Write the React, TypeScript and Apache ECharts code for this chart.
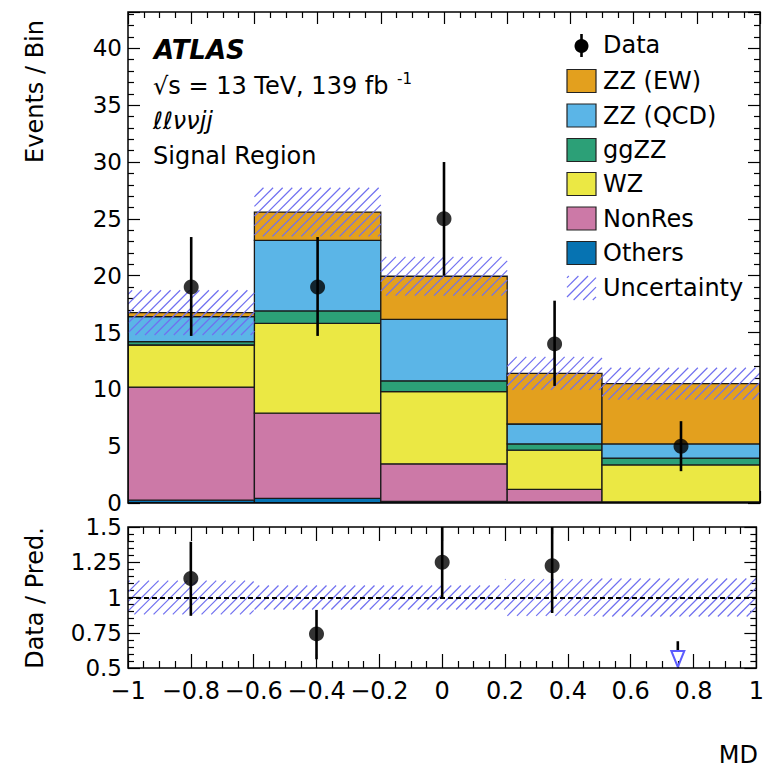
import React, { useEffect, useRef } from "react";
import * as echarts from "echarts";

// ---------------- data ----------------
const binEdges = [-1, -0.6, -0.2, 0.2, 0.5, 1];
const binCenters = [-0.8, -0.4, 0, 0.35, 0.75];

// stacked components (bottom -> top), events per bin
const others = [0.25, 0.4, 0.15, 0.1, 0.05];
const nonRes = [9.95, 7.5, 3.3, 1.1, 0.05];
const wz = [3.7, 7.9, 6.35, 3.45, 3.25];
const ggzz = [0.3, 1.1, 0.95, 0.55, 0.6];
const zzQcd = [2.2, 6.2, 5.4, 1.75, 1.25];
const zzEw = [0.35, 2.5, 3.8, 4.45, 5.3];
const uncertainty = [1.97, 2.14, 1.7, 1.45, 1.4];

const dataCounts = [19, 19, 25, 14, 5];
const dataErrUp = [4.4, 4.4, 5.0, 3.8, 2.2];
const dataErrDown = [4.3, 4.3, 5.0, 3.7, 2.2];

const ratioValues = [1.135, 0.742, 1.25, 1.225, null];
const ratioErrUp = [0.26, 0.17, 0.25, 0.33, null];
const ratioErrDown = [0.265, 0.18, 0.25, 0.335, null];
const ratioUnc = [0.12, 0.085, 0.085, 0.13, 0.135];
// point below the ratio range: upper end of its error bar (drawn as arrow)
const ratioOffScaleUpper = [null, null, null, null, 0.69];

const componentNames = ["Others", "NonRes", "WZ", "ggZZ", "ZZ (QCD)", "ZZ (EW)"];
const componentValues = [others, nonRes, wz, ggzz, zzQcd, zzEw];
const componentColors = ["#0673B2", "#CC79A7", "#EBE844", "#2CA077", "#5BB5E7", "#E3A01E"];
const legendOrder = ["ZZ (EW)", "ZZ (QCD)", "ggZZ", "WZ", "NonRes", "Others"];

const HATCH_COLOR = "#7070f0";
const FONT = "DejaVu Sans, Liberation Sans, Arial, sans-serif";

// ---------------- helpers ----------------
function hatchLines(x0: number, x1: number, yT: number, yB: number, s = 9.6, k = 1) {
  const lines: any[] = [];
  // lines: x + k*y = c
  const cMin = x0 + k * yT;
  const cMax = x1 + k * yB;
  const start = Math.ceil(cMin / s) * s;
  for (let c = start; c <= cMax; c += s) {
    const ya = Math.max(yT, (c - x1) / k);
    const yb = Math.min(yB, (c - x0) / k);
    if (yb - ya > 0.3) {
      lines.push({
        type: "line",
        shape: { x1: c - k * yb, y1: yb, x2: c - k * ya, y2: ya },
        style: { stroke: HATCH_COLOR, lineWidth: 1.2 },
      });
    }
  }
  return lines;
}

export default function App() {
  const ref = useRef<HTMLDivElement>(null);

  useEffect(() => {
    document.body.style.margin = "0";
    if (!ref.current) return;
    const chart = echarts.init(ref.current, null, { renderer: "svg" });

    // cumulative stacks
    const cum = binCenters.map(() => 0);
    const stackSeries: any[] = componentValues.map((vals, ci) => {
      const items = vals.map((v, i) => {
        const lo = cum[i];
        const hi = cum[i] + v;
        cum[i] = hi;
        return [binEdges[i], binEdges[i + 1], lo, hi];
      });
      return {
        type: "custom",
        name: componentNames[ci],
        xAxisIndex: 0,
        yAxisIndex: 0,
        clip: true,
        z: 2,
        encode: { x: [0, 1], y: [2, 3] },
        data: items,
        renderItem: (params: any, api: any) => {
          const p0 = api.coord([api.value(0), api.value(3)]);
          const p1 = api.coord([api.value(1), api.value(2)]);
          return {
            type: "rect",
            shape: { x: p0[0], y: p0[1], width: p1[0] - p0[0], height: p1[1] - p0[1] },
            style: { fill: componentColors[ci], stroke: "#1a1a1a", lineWidth: 1.3 },
          };
        },
      };
    });
    const totals = cum.slice();

    const hatchRender = (params: any, api: any) => {
      const p0 = api.coord([api.value(0), api.value(3)]);
      const p1 = api.coord([api.value(1), api.value(2)]);
      return { type: "group", children: hatchLines(p0[0], p1[0], p0[1], p1[1]) };
    };

    const mainBand = totals.map((t, i) => [binEdges[i], binEdges[i + 1], t - uncertainty[i], t + uncertainty[i]]);
    const ratioBand = ratioUnc.map((u, i) => [binEdges[i], binEdges[i + 1], 1 - u, 1 + u]);

    const errRender = (params: any, api: any) => {
      const top = api.coord([api.value(0), api.value(2)]);
      const bot = api.coord([api.value(0), api.value(1)]);
      return {
        type: "line",
        shape: { x1: top[0], y1: top[1], x2: bot[0], y2: bot[1] },
        style: { stroke: "#000", lineWidth: 2.6 },
      };
    };

    const mainErr = dataCounts.map((d, i) => [binCenters[i], d - dataErrDown[i], d + dataErrUp[i]]);
    const ratioErr: any[] = [];
    ratioValues.forEach((r, i) => {
      if (r != null) ratioErr.push([binCenters[i], r - (ratioErrDown[i] as number), r + (ratioErrUp[i] as number)]);
    });
    const ratioPts: any[] = [];
    ratioValues.forEach((r, i) => {
      if (r != null) ratioPts.push([binCenters[i], r]);
    });
    const arrows: any[] = [];
    ratioOffScaleUpper.forEach((u, i) => {
      if (u != null) arrows.push([binCenters[i], u]);
    });

    const tickStyle = { lineStyle: { color: "#000", width: 1.2 } };
    const xBase = (gridIndex: number, position: string, showLabel: boolean, tickLen: number) => ({
      type: "value",
      gridIndex,
      position,
      min: -1,
      max: 1,
      interval: 0.2,
      axisLine: { show: false, onZero: false },
      splitLine: { show: false },
      axisTick: { show: true, inside: true, length: tickLen, ...tickStyle },
      minorTick: { show: true, splitNumber: 4, length: tickLen / 2, ...tickStyle },
      axisLabel: {
        show: showLabel,
        margin: 11,
        color: "#000",
        fontFamily: FONT,
        fontSize: 24,
        formatter: (v: number) => {
          const r = Math.round(v * 10) / 10;
          return String(r).replace("-", "\u2212");
        },
      },
    });
    const yMain = (position: string, showLabel: boolean) => ({
      type: "value",
      gridIndex: 0,
      position,
      min: 0,
      max: 43.2,
      interval: 5,
      axisLine: { show: false, onZero: false },
      splitLine: { show: false },
      axisTick: { show: true, inside: true, length: 12, ...tickStyle },
      minorTick: { show: true, splitNumber: 5, length: 6, ...tickStyle },
      axisLabel: {
        show: showLabel,
        margin: 6,
        color: "#000",
        fontFamily: FONT,
        fontSize: 23,
        lineHeight: 18,
        formatter: (v: number) => (Math.abs(v % 5) < 1e-6 ? String(v) : ""),
      },
    });
    const yRatio = (position: string, showLabel: boolean) => ({
      type: "value",
      gridIndex: 1,
      position,
      min: 0.5,
      max: 1.5,
      interval: 0.25,
      axisLine: { show: false, onZero: false },
      splitLine: { show: false },
      axisTick: { show: true, inside: true, length: 12, ...tickStyle },
      minorTick: { show: true, splitNumber: 5, length: 6, ...tickStyle },
      axisLabel: {
        show: showLabel,
        margin: 6,
        color: "#000",
        fontFamily: FONT,
        fontSize: 23,
        lineHeight: 18,
        formatter: (v: number) => String(Math.round(v * 100) / 100),
      },
    });

    // legend graphics
    const legendX = 567;
    const textX = 603;
    const rowY: Record<string, number> = {
      Data: 45,
      "ZZ (EW)": 81,
      "ZZ (QCD)": 115.5,
      ggZZ: 150,
      WZ: 184,
      NonRes: 218.5,
      Others: 253,
      Uncertainty: 288,
    };
    const legendEls: any[] = [];
    legendEls.push({
      type: "line",
      shape: { x1: legendX + 14.5, y1: rowY.Data - 11, x2: legendX + 14.5, y2: rowY.Data + 12 },
      style: { stroke: "#000", lineWidth: 2.6 },
    });
    legendEls.push({
      type: "circle",
      shape: { cx: legendX + 14.5, cy: rowY.Data + 1, r: 7 },
      style: { fill: "#000" },
    });
    legendOrder.forEach((name) => {
      const ci = componentNames.indexOf(name);
      legendEls.push({
        type: "rect",
        shape: { x: legendX, y: rowY[name] - 11.5, width: 29, height: 23 },
        style: { fill: componentColors[ci], stroke: "#222", lineWidth: 1.2 },
      });
    });
    hatchLines(legendX, legendX + 29, rowY.Uncertainty - 12, rowY.Uncertainty + 12, 9.6, 1).forEach((l) =>
      legendEls.push(l)
    );
    ["Data", ...legendOrder, "Uncertainty"].forEach((name) => {
      legendEls.push({
        type: "text",
        x: textX,
        y: rowY[name],
        style: {
          text: name,
          fill: "#000",
          font: `24px ${FONT}`,
          textAlign: "left",
          textVerticalAlign: "middle",
        },
      });
    });

    const labelEls: any[] = [
      {
        type: "text",
        x: 154,
        y: 50,
        style: {
          text: "ATLAS",
          fill: "#000",
          font: `italic bold 26px ${FONT}`,
          textAlign: "left",
          textVerticalAlign: "middle",
        },
      },
      {
        type: "text",
        x: 153,
        y: 86,
        style: {
          text: "\u221As = 13 TeV, 139 fb",
          fill: "#000",
          font: `24px ${FONT}`,
          textAlign: "left",
          textVerticalAlign: "middle",
        },
      },
      {
        type: "text",
        x: 397,
        y: 79,
        style: {
          text: "-1",
          fill: "#000",
          font: `15px ${FONT}`,
          textAlign: "left",
          textVerticalAlign: "middle",
        },
      },
      {
        type: "text",
        x: 153,
        y: 121,
        style: {
          text: "\u2113\u2113\u03BD\u03BDjj",
          fill: "#000",
          font: `italic 24px ${FONT}`,
          textAlign: "left",
          textVerticalAlign: "middle",
        },
      },
      {
        type: "text",
        x: 153,
        y: 156,
        style: {
          text: "Signal Region",
          fill: "#000",
          font: `24px ${FONT}`,
          textAlign: "left",
          textVerticalAlign: "middle",
        },
      },
      {
        type: "text",
        x: 35,
        y: 20,
        rotation: Math.PI / 2,
        style: {
          text: "Events / Bin",
          fill: "#000",
          font: `24px ${FONT}`,
          textAlign: "right",
          textVerticalAlign: "middle",
        },
      },
      {
        type: "text",
        x: 35,
        y: 598,
        rotation: Math.PI / 2,
        style: {
          text: "Data / Pred.",
          fill: "#000",
          font: `24px ${FONT}`,
          textAlign: "center",
          textVerticalAlign: "middle",
        },
      },
      {
        type: "text",
        x: 758,
        y: 755,
        style: {
          text: "MD",
          fill: "#000",
          font: `24px ${FONT}`,
          textAlign: "right",
          textVerticalAlign: "middle",
        },
      },
    ];

    const option: any = {
      animation: false,
      backgroundColor: "#fff",
      grid: [
        { left: 128, top: 12, width: 632, height: 491, show: true, borderColor: "#000", borderWidth: 1.5, backgroundColor: "transparent", z: 10 },
        { left: 128, top: 527, width: 632, height: 141, show: true, borderColor: "#000", borderWidth: 1.5, backgroundColor: "transparent", z: 10 },
      ],
      xAxis: [
        xBase(0, "bottom", false, 12),
        xBase(0, "top", false, 12),
        xBase(1, "bottom", true, 14),
        xBase(1, "top", false, 14),
      ],
      yAxis: [yMain("left", true), yMain("right", false), yRatio("left", true), yRatio("right", false)],
      series: [
        ...stackSeries,
        {
          type: "custom",
          name: "Uncertainty",
          xAxisIndex: 0,
          yAxisIndex: 0,
          z: 3,
          clip: true,
          encode: { x: [0, 1], y: [2, 3] },
          data: mainBand,
          renderItem: hatchRender,
        },
        {
          type: "custom",
          name: "Data errors",
          xAxisIndex: 0,
          yAxisIndex: 0,
          z: 4,
          clip: true,
          encode: { x: 0, y: [1, 2] },
          data: mainErr,
          renderItem: errRender,
        },
        {
          type: "scatter",
          name: "Data",
          xAxisIndex: 0,
          yAxisIndex: 0,
          z: 5,
          symbol: "circle",
          symbolSize: 15,
          itemStyle: { color: "#000" },
          data: dataCounts.map((d, i) => [binCenters[i], d]),
        },
        {
          type: "custom",
          name: "Ratio uncertainty",
          xAxisIndex: 2,
          yAxisIndex: 2,
          z: 3,
          clip: true,
          encode: { x: [0, 1], y: [2, 3] },
          data: ratioBand,
          renderItem: hatchRender,
        },
        {
          type: "custom",
          name: "Ratio errors",
          xAxisIndex: 2,
          yAxisIndex: 2,
          z: 4,
          clip: true,
          encode: { x: 0, y: [1, 2] },
          data: ratioErr,
          renderItem: errRender,
        },
        {
          type: "custom",
          name: "Ratio arrow",
          xAxisIndex: 2,
          yAxisIndex: 2,
          z: 4,
          clip: true,
          encode: { x: 0, y: 1 },
          data: arrows,
          renderItem: (params: any, api: any) => {
            const top = api.coord([api.value(0), api.value(1)]);
            const tip = api.coord([api.value(0), 0.5]);
            const triTop = tip[1] - 17;
            return {
              type: "group",
              children: [
                {
                  type: "line",
                  shape: { x1: top[0], y1: top[1], x2: top[0], y2: triTop },
                  style: { stroke: "#000", lineWidth: 2.6 },
                },
                {
                  type: "polygon",
                  shape: { points: [[tip[0] - 6.5, triTop], [tip[0] + 6.5, triTop], [tip[0], tip[1] - 1]] },
                  style: { fill: "none", stroke: "#5c5cff", lineWidth: 2 },
                },
              ],
            };
          },
        },
        {
          type: "scatter",
          name: "Ratio",
          xAxisIndex: 2,
          yAxisIndex: 2,
          z: 5,
          symbol: "circle",
          symbolSize: 15,
          itemStyle: { color: "#000" },
          data: ratioPts,
          markLine: {
            silent: true,
            symbol: "none",
            label: { show: false },
            lineStyle: { color: "#000", width: 2, type: [5, 3] },
            data: [{ yAxis: 1 }],
          },
        },
      ],
      graphic: [...legendEls, ...labelEls],
    };

    chart.setOption(option);
    return () => chart.dispose();
  }, []);

  return <div ref={ref} style={{ width: 767, height: 768 }} />;
}
